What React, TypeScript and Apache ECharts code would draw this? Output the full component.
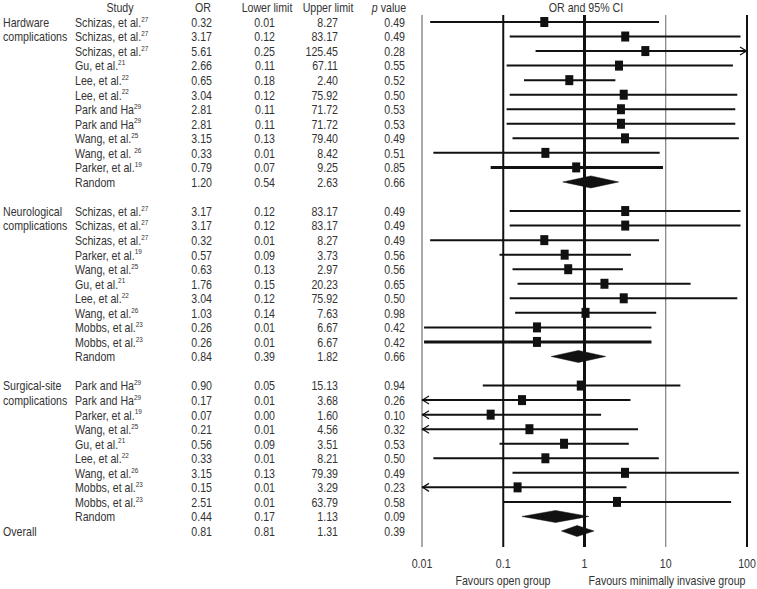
import React, { useEffect, useRef } from "react";
import * as echarts from "echarts";

// ---------------- data ----------------
const hardwareLabel = ["Hardware", "complications"];
const hardwareNames = ["Schizas, et al.", "Schizas, et al.", "Schizas, et al.", "Gu, et al.", "Lee, et al.", "Lee, et al.", "Park and Ha", "Park and Ha", "Wang, et al.", "Wang, et al. ", "Parker, et al."];
const hardwareRefs = ["27", "27", "27", "21", "22", "22", "29", "29", "25", "26", "19"];
const hardwareOR = [0.32, 3.17, 5.61, 2.66, 0.65, 3.04, 2.81, 2.81, 3.15, 0.33, 0.79];
const hardwareLower = [0.01, 0.12, 0.25, 0.11, 0.18, 0.12, 0.11, 0.11, 0.13, 0.01, 0.07];
const hardwareUpper = [8.27, 83.17, 125.45, 67.11, 2.4, 75.92, 71.72, 71.72, 79.4, 8.42, 9.25];
const hardwareP = [0.49, 0.49, 0.28, 0.55, 0.52, 0.5, 0.53, 0.53, 0.49, 0.51, 0.85];
// lower whisker ends as drawn in the figure (unrounded)
const hardwarePlotLower = [0.0126, 0.12, 0.25, 0.11, 0.18, 0.12, 0.11, 0.11, 0.13, 0.0138, 0.07];
const hardwareRandom = [1.2, 0.54, 2.63, 0.66]; // OR, lower, upper, p

const neuroLabel = ["Neurological", "complications"];
const neuroNames = ["Schizas, et al.", "Schizas, et al.", "Schizas, et al.", "Parker, et al.", "Wang, et al.", "Gu, et al.", "Lee, et al.", "Wang, et al.", "Mobbs, et al.", "Mobbs, et al."];
const neuroRefs = ["27", "27", "27", "19", "25", "21", "22", "26", "23", "23"];
const neuroOR = [3.17, 3.17, 0.32, 0.57, 0.63, 1.76, 3.04, 1.03, 0.26, 0.26];
const neuroLower = [0.12, 0.12, 0.01, 0.09, 0.13, 0.15, 0.12, 0.14, 0.01, 0.01];
const neuroUpper = [83.17, 83.17, 8.27, 3.73, 2.97, 20.23, 75.92, 7.63, 6.67, 6.67];
const neuroP = [0.49, 0.49, 0.49, 0.56, 0.56, 0.65, 0.5, 0.98, 0.42, 0.42];
const neuroPlotLower = [0.12, 0.12, 0.0126, 0.09, 0.13, 0.15, 0.12, 0.14, 0.0106, 0.0106];
const neuroRandom = [0.84, 0.39, 1.82, 0.66];

const surgicalLabel = ["Surgical-site", "complications"];
const surgicalNames = ["Park and Ha", "Park and Ha", "Parker, et al.", "Wang, et al.", "Gu, et al.", "Lee, et al.", "Wang, et al.", "Mobbs, et al.", "Mobbs, et al."];
const surgicalRefs = ["29", "29", "19", "25", "21", "22", "26", "23", "23"];
const surgicalOR = [0.9, 0.17, 0.07, 0.21, 0.56, 0.33, 3.15, 0.15, 2.51];
const surgicalLower = [0.05, 0.01, 0.0, 0.01, 0.09, 0.01, 0.13, 0.01, 0.01];
const surgicalUpper = [15.13, 3.68, 1.6, 4.56, 3.51, 8.21, 79.39, 3.29, 63.79];
const surgicalP = [0.94, 0.26, 0.1, 0.32, 0.53, 0.5, 0.49, 0.23, 0.58];
const surgicalPlotLower = [0.056, 0.005, 0.002, 0.005, 0.09, 0.0138, 0.13, 0.005, 0.1];
const surgicalRandom = [0.44, 0.17, 1.13, 0.09];

const overallLabel = "Overall";
const overallValues = [0.81, 0.81, 1.31, 0.39]; // as printed
const overallPlot = [0.81, 0.52, 1.31]; // diamond as drawn: centre, lower, upper

const xTickValues = [0.01, 0.1, 1, 10, 100];
const xTickLabels = ["0.01", "0.1", "1", "10", "100"];
const headers = ["Study", "OR", "Lower limit", "Upper limit", "p value"];
const plotTitle = "OR and 95% CI";
const favoursLeft = "Favours open group";
const favoursRight = "Favours minimally invasive group";

// ---------------- styles / layout ----------------
const FONT = "'Liberation Sans', Arial, sans-serif";
const SX = 0.85; // horizontal condensing of text
const TEXT = "#333";
const INK = "#111";
const FS = 12.5;
const X_MIN = 0.01;
const X_MAX = 100;
const COL = { group: 3, study: 75, or: 212, lower: 275, upper: 338, p: 405 };
const HEAD_X = [120, 203, 267, 328, 389];
const refLineWidths = [1, 2, 3, 1, 2];
const refLineColors = ["#555", INK, INK, "#666", INK];
const THICK_ROWS = new Set([10, 22]);

type Row = {
  row: number;
  kind: "study" | "pooled" | "overall";
  name?: string;
  ref?: string;
  or: number;
  lower: number;
  upper: number;
  p: number;
  plotOr: number;
  plotLo: number;
  plotHi: number;
};

function buildRows() {
  const sections = [
    { label: hardwareLabel, names: hardwareNames, refs: hardwareRefs, or: hardwareOR, lower: hardwareLower, upper: hardwareUpper, p: hardwareP, plotLower: hardwarePlotLower, random: hardwareRandom },
    { label: neuroLabel, names: neuroNames, refs: neuroRefs, or: neuroOR, lower: neuroLower, upper: neuroUpper, p: neuroP, plotLower: neuroPlotLower, random: neuroRandom },
    { label: surgicalLabel, names: surgicalNames, refs: surgicalRefs, or: surgicalOR, lower: surgicalLower, upper: surgicalUpper, p: surgicalP, plotLower: surgicalPlotLower, random: surgicalRandom },
  ];
  const rows: Row[] = [];
  const groupLabels: { row: number; text: string }[] = [];
  let r = 0;
  sections.forEach((s, si) => {
    s.label.forEach((t, k) => groupLabels.push({ row: r + k, text: t }));
    s.names.forEach((n, i) => {
      rows.push({ row: r, kind: "study", name: n, ref: s.refs[i], or: s.or[i], lower: s.lower[i], upper: s.upper[i], p: s.p[i], plotOr: s.or[i], plotLo: s.plotLower[i], plotHi: s.upper[i] });
      r++;
    });
    rows.push({ row: r, kind: "pooled", name: "Random", or: s.random[0], lower: s.random[1], upper: s.random[2], p: s.random[3], plotOr: s.random[0], plotLo: s.random[1], plotHi: s.random[2] });
    r++;
    if (si < sections.length - 1) r++;
  });
  groupLabels.push({ row: r, text: overallLabel });
  rows.push({ row: r, kind: "overall", or: overallValues[0], lower: overallValues[1], upper: overallValues[2], p: overallValues[3], plotOr: overallPlot[0], plotLo: overallPlot[1], plotHi: overallPlot[2] });
  return { rows, groupLabels, lastRow: r };
}

const txt = (x: number, y: number, text: string, align: string, extra: any = {}) => ({
  type: "text",
  x,
  y,
  scaleX: SX,
  silent: true,
  style: { text, fill: TEXT, fontSize: FS, fontFamily: FONT, align, verticalAlign: "middle", ...extra },
});

export default function App() {
  const ref = useRef<HTMLDivElement>(null);
  useEffect(() => {
    if (!ref.current) return;
    const chart = echarts.init(ref.current, undefined, { renderer: "svg" });
    const { rows, groupLabels, lastRow } = buildRows();
    const yMin = -0.48;
    const yMax = lastRow + 1.1;

    const option: any = {
      animation: false,
      grid: { left: 422, right: 10, top: 15, height: 532 },
      xAxis: {
        type: "log",
        logBase: 10,
        min: X_MIN,
        max: X_MAX,
        axisLine: { show: false },
        axisTick: { show: false },
        splitLine: { show: false },
        minorTick: { show: false },
        axisLabel: { show: false },
      },
      yAxis: { type: "value", inverse: true, min: yMin, max: yMax, show: false, splitLine: { show: false } },
      graphic: [
        txt(586, 7, plotTitle, "center"),
        txt(503, 580, favoursLeft, "center"),
        txt(667, 580, favoursRight, "center"),
      ],
      series: [
        // reference vertical lines + tick labels
        {
          type: "custom",
          silent: true,
          data: xTickValues.map((v) => [v, 0]),
          encode: { x: 0, y: 1 },
          renderItem: (params: any, api: any) => {
            const i = params.dataIndex;
            const x = api.coord([api.value(0), 0])[0];
            const cs = params.coordSys;
            return {
              type: "group",
              children: [
                {
                  type: "line",
                  shape: { x1: x, y1: cs.y, x2: x, y2: cs.y + cs.height },
                  style: { stroke: refLineColors[i], lineWidth: refLineWidths[i] },
                },
                txt(x, cs.y + cs.height + 16, xTickLabels[i], "center"),
              ],
            };
          },
        },
        // table text
        {
          type: "custom",
          silent: true,
          data: [[X_MIN, -1], ...rows.map((r) => [X_MIN, r.row]), ...groupLabels.map((g) => [X_MIN, g.row])],
          encode: { x: 0, y: 1 },
          renderItem: (params: any, api: any) => {
            const i = params.dataIndex;
            const y = api.coord([X_MIN, api.value(1)])[1];
            if (i === 0) {
              const hy = 7;
              return {
                type: "group",
                children: [
                  txt(HEAD_X[0], hy, headers[0], "center"),
                  txt(HEAD_X[1], hy, headers[1], "center"),
                  txt(HEAD_X[2], hy, headers[2], "center"),
                  txt(HEAD_X[3], hy, headers[3], "center"),
                  txt(HEAD_X[4], hy, `{i|p}{n|${headers[4].slice(1)}}`, "center", {
                    rich: {
                      i: { fontStyle: "italic", fontSize: FS, fontFamily: FONT, fill: TEXT },
                      n: { fontSize: FS, fontFamily: FONT, fill: TEXT },
                    },
                  }),
                ],
              };
            }
            if (i - 1 < rows.length) {
              const r = rows[i - 1];
              const children: any[] = [];
              if (r.name) {
                if (r.ref) {
                  children.push(
                    txt(COL.study, y, `{n|${r.name}}{s|${r.ref}}`, "left", {
                      rich: {
                        n: { fontSize: FS, fontFamily: FONT, fill: TEXT, lineHeight: 14 },
                        s: { fontSize: 7.5, fontFamily: FONT, fill: TEXT, lineHeight: 8, verticalAlign: "top" },
                      },
                    })
                  );
                } else {
                  children.push(txt(COL.study, y, r.name, "left"));
                }
              }
              children.push(txt(COL.or, y, r.or.toFixed(2), "right"));
              children.push(txt(COL.lower, y, r.lower.toFixed(2), "right"));
              children.push(txt(COL.upper, y, r.upper.toFixed(2), "right"));
              children.push(txt(COL.p, y, r.p.toFixed(2), "right"));
              return { type: "group", children };
            }
            const g = groupLabels[i - 1 - rows.length];
            return txt(COL.group, y, g.text, "left");
          },
        },
        // forest marks
        {
          type: "custom",
          silent: true,
          data: rows.map((r) => [r.plotOr, r.row]),
          encode: { x: 0, y: 1 },
          renderItem: (params: any, api: any) => {
            const r = rows[params.dataIndex];
            const lo = Math.max(r.plotLo, X_MIN);
            const hi = Math.min(r.plotHi, X_MAX);
            const pL = api.coord([lo, r.row]);
            const pH = api.coord([hi, r.row]);
            const pC = api.coord([r.plotOr, r.row]);
            const y = pC[1];
            if (r.kind !== "study") {
              const h = r.kind === "overall" ? 5.5 : 6;
              return {
                type: "polygon",
                shape: { points: [[pL[0], y], [pC[0], y - h], [pH[0], y], [pC[0], y + h]] },
                style: { fill: INK, stroke: INK, lineWidth: 0.5 },
              };
            }
            const lw = THICK_ROWS.has(r.row) ? 3 : 2;
            const children: any[] = [
              { type: "line", shape: { x1: pL[0], y1: y, x2: pH[0], y2: y }, style: { stroke: INK, lineWidth: lw } },
              { type: "rect", shape: { x: pC[0] - 4, y: y - 5, width: 8, height: 10 }, style: { fill: INK } },
            ];
            if (r.plotLo < X_MIN) {
              children.push({
                type: "polyline",
                shape: { points: [[pL[0] + 7, y - 4], [pL[0] + 0.5, y], [pL[0] + 7, y + 4]] },
                style: { stroke: INK, lineWidth: 1.2, fill: "none" },
              });
            }
            if (r.plotHi > X_MAX) {
              children.push({
                type: "polyline",
                shape: { points: [[pH[0] - 7, y - 4], [pH[0] - 0.5, y], [pH[0] - 7, y + 4]] },
                style: { stroke: INK, lineWidth: 1.2, fill: "none" },
              });
            }
            return { type: "group", children };
          },
        },
      ],
    };
    chart.setOption(option);
    return () => chart.dispose();
  }, []);
  return <div ref={ref} style={{ position: "fixed", left: 0, top: 0, width: 757, height: 589, background: "#fff" }} />;
}
